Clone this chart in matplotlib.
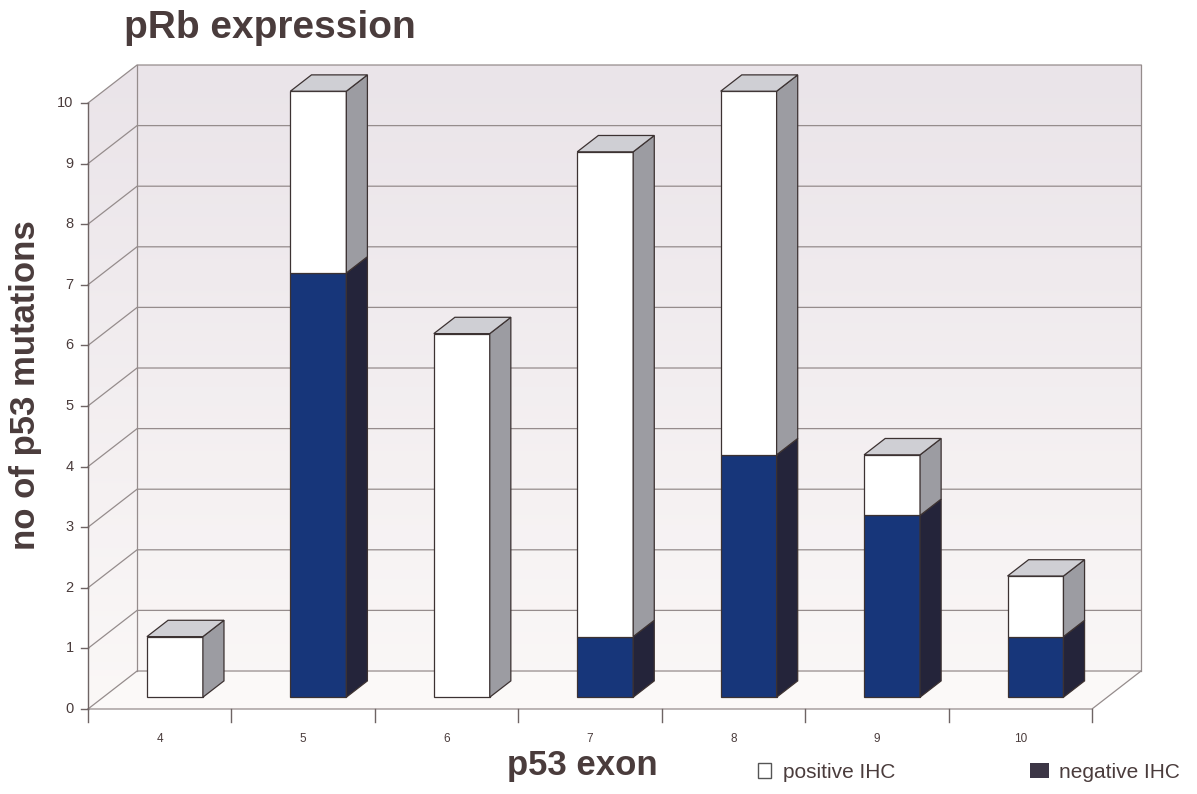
import numpy as np
import matplotlib
matplotlib.use("Agg")
import matplotlib.pyplot as plt
from matplotlib.patches import Polygon, Rectangle

plt.rcParams['font.family'] = ['Liberation Sans', 'DejaVu Sans']

# ---- data -------------------------------------------------------------
exons = ["4", "5", "6", "7", "8", "9", "10"]
negative_ihc = [0, 7, 0, 1, 4, 3, 1]
positive_ihc = [1, 3, 6, 8, 6, 1, 1]
y_ticks = list(range(0, 11))

title = "pRb expression"
x_label = "p53 exon"
y_label = "no of p53 mutations"
legend_labels = ["positive IHC", "negative IHC"]

# ---- styling ----------------------------------------------------------
TEXT = "#4a3c3c"
GRID = "#958c8c"
NAVY = "#17367a"
NAVY_SIDE = "#24243a"
WHITE_SIDE = "#9c9ca2"
WHITE_TOP = "#cfcfd4"
EDGE = "#3c3232"

# oblique projection of the depth axis (in data units)
DX, DY = 0.342, 0.627
BAR_W = 0.39
D0, D1 = 0.31, 0.74        # bar depth range as fraction of the full depth

W, H = 1197, 794
fig = plt.figure(figsize=(W / 100, H / 100), dpi=100)
ax = fig.add_axes([0, 0, 1, 1])
px_x, px_y = 143.43, 60.6      # pixels per category / per unit
ax.set_xlim(-88 / px_x, (W - 88) / px_x)
ax.set_ylim(-85 / px_y, (H - 85) / px_y)
ax.axis("off")

n = len(exons)
ymax = 10

# ---- walls with a soft vertical shading -------------------------------
grad = np.linspace(0, 1, 256)[:, None]
top_c = np.array([234, 228, 233]) / 255
bot_c = np.array([251, 248, 247]) / 255
img = bot_c + (top_c - bot_c) * grad
img = np.repeat(img[:, None, :], 2, axis=1)

back = Polygon([(DX, DY), (n + DX, DY), (n + DX, ymax + DY), (DX, ymax + DY)],
               closed=True, facecolor="none", edgecolor="none")
left = Polygon([(0, 0), (DX, DY), (DX, ymax + DY), (0, ymax)],
               closed=True, facecolor="none", edgecolor="none")
for poly in (back, left):
    ax.add_patch(poly)
    im = ax.imshow(img, extent=(0, n + DX, 0, ymax + DY), origin="lower",
                   aspect="auto", zorder=0.5)
    im.set_clip_path(poly)

floor = Polygon([(0, 0), (n, 0), (n + DX, DY), (DX, DY)], closed=True,
                facecolor="#fbf9f8", edgecolor="none", zorder=0.6)
ax.add_patch(floor)

# gridlines on side and back walls
for v in y_ticks:
    ax.plot([0, DX, n + DX], [v, v + DY, v + DY], color=GRID, lw=0.9, zorder=1)
ax.plot([DX, DX], [DY, ymax + DY], color=GRID, lw=0.9, zorder=1)
ax.plot([n + DX, n + DX], [DY, ymax + DY], color=GRID, lw=0.9, zorder=1)
ax.plot([0, n, n + DX], [0, 0, DY], color=GRID, lw=0.9, zorder=1)

# front axes
ax.plot([0, 0], [0, ymax], color="#6e6464", lw=1.0, zorder=1)
for v in y_ticks:
    ax.plot([-0.05, 0], [v, v], color="#6e6464", lw=1.0)
    ax.text(-0.1, v, str(v), ha="right", va="center", fontsize=10.5, color=TEXT)
for i in range(n + 1):
    ax.plot([i, i], [0, -0.22], color="#6e6464", lw=1.0)
for i, lab in enumerate(exons):
    ax.text(i + 0.5, -0.5, lab, ha="center", va="center", fontsize=8.5, color=TEXT)

# ---- 3D stacked bars --------------------------------------------------
def box(x0, y0, y1, front, side, top_c=None):
    fx, fy = D0 * DX, D0 * DY
    bx, by = D1 * DX, D1 * DY
    xl, xr = x0 + fx, x0 + BAR_W + fx
    ax.add_patch(Polygon([(xl, y0 + fy), (xr, y0 + fy), (xr, y1 + fy), (xl, y1 + fy)],
                         closed=True, facecolor=front, edgecolor=EDGE, lw=0.9, zorder=3))
    sx = xr - fx
    ax.add_patch(Polygon([(xr, y0 + fy), (sx + bx, y0 + by), (sx + bx, y1 + by), (xr, y1 + fy)],
                         closed=True, facecolor=side, edgecolor=EDGE, lw=0.9, zorder=3))
    if top_c is not None:
        ax.add_patch(Polygon([(xl, y1 + fy), (xr, y1 + fy), (x0 + BAR_W + bx, y1 + by),
                              (x0 + bx, y1 + by)],
                             closed=True, facecolor=top_c, edgecolor=EDGE, lw=0.9, zorder=3))

for i in range(n):
    x0 = i + 0.5 - BAR_W / 2
    neg, pos = negative_ihc[i], positive_ihc[i]
    if neg > 0:
        box(x0, 0, neg, NAVY, NAVY_SIDE, None if pos > 0 else "#3a4a7a")
    if pos > 0:
        box(x0, neg, neg + pos, "white", WHITE_SIDE, WHITE_TOP)

# ---- text -------------------------------------------------------------
fig.text(124 / W, 1 - 28 / H, title, ha="left", va="center", fontsize=28,
         fontweight="bold", color=TEXT)
fig.text(26 / W, 1 - 385 / H, y_label, ha="center", va="center", rotation=90,
         fontsize=25, fontweight="bold", color=TEXT)
fig.text(582 / W, 1 - 765 / H, x_label, ha="center", va="center", fontsize=25,
         fontweight="bold", color=TEXT)

# legend
fig.patches.append(Rectangle((758 / W, 1 - 778 / H), 13 / W, 15 / H,
                             transform=fig.transFigure, facecolor="white",
                             edgecolor="#555", lw=1.0))
fig.text(783 / W, 1 - 773 / H, legend_labels[0], ha="left", va="center",
         fontsize=15, color=TEXT)
fig.patches.append(Rectangle((1030 / W, 1 - 778 / H), 19 / W, 15 / H,
                             transform=fig.transFigure, facecolor="#3c3646",
                             edgecolor="none"))
fig.text(1059 / W, 1 - 773 / H, legend_labels[1], ha="left", va="center",
         fontsize=15, color=TEXT)

fig.savefig("out.png", dpi=100, facecolor="white")
